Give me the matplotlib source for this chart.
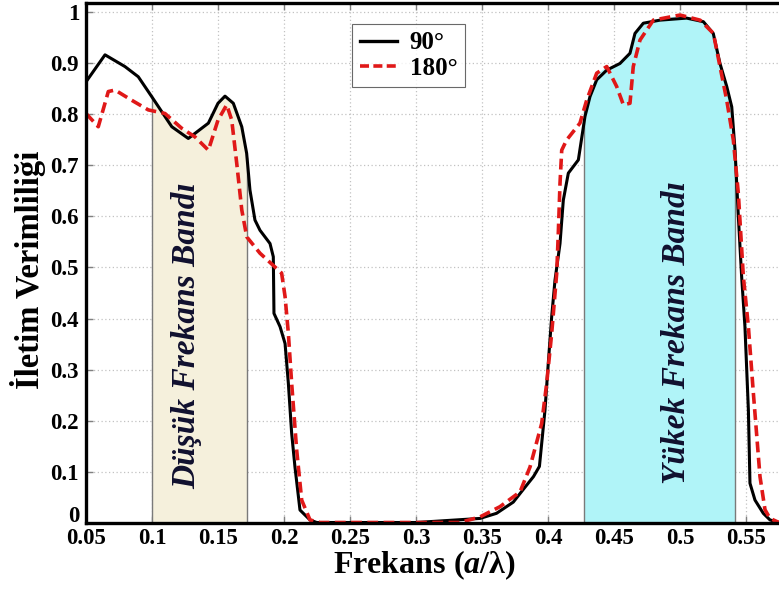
import numpy as np
import matplotlib
matplotlib.use("Agg")
import matplotlib.pyplot as plt
import matplotlib.transforms as mtransforms
from matplotlib.lines import Line2D

# ---- data ----
x_90 = [0.05, 0.0644, 0.0795, 0.0896, 0.0998, 0.115, 0.1275, 0.1427, 0.150, 0.1553,
        0.1616, 0.168, 0.1717, 0.1742, 0.178, 0.1818, 0.1894, 0.1919, 0.1924, 0.197,
        0.2008, 0.2033, 0.2058, 0.2083, 0.2121, 0.2197, 0.2248, 0.30, 0.3485, 0.361,
        0.3737, 0.381, 0.389, 0.3935, 0.3977, 0.4002, 0.4028, 0.4053, 0.4091, 0.4116,
        0.4154, 0.423, 0.428, 0.4318, 0.4369, 0.4445, 0.4545, 0.4621, 0.4659, 0.4722,
        0.4848, 0.505, 0.5177, 0.5252, 0.5303, 0.5354, 0.5392, 0.5417, 0.5442, 0.5467,
        0.5492, 0.5518, 0.553, 0.5568, 0.5631, 0.5682, 0.575]
y_90 = [0.864, 0.917, 0.894, 0.874, 0.835, 0.776, 0.753, 0.783, 0.822, 0.836,
        0.822, 0.776, 0.724, 0.652, 0.593, 0.573, 0.547, 0.521, 0.410, 0.384,
        0.351, 0.273, 0.175, 0.109, 0.0245, 0.005, 0.0, 0.0, 0.008, 0.018,
        0.040, 0.064, 0.090, 0.110, 0.220, 0.312, 0.404, 0.475, 0.547, 0.632,
        0.685, 0.711, 0.796, 0.835, 0.868, 0.887, 0.900, 0.920, 0.959, 0.979,
        0.985, 0.989, 0.982, 0.959, 0.900, 0.855, 0.815, 0.730, 0.600, 0.482,
        0.384, 0.221, 0.077, 0.044, 0.018, 0.005, 0.0]

x_180 = [0.05, 0.0593, 0.0669, 0.072, 0.0846, 0.0972, 0.1098, 0.1225, 0.1326, 0.1427,
         0.150, 0.1566, 0.1604, 0.1642, 0.168, 0.1718, 0.1818, 0.1944, 0.1982, 0.2008,
         0.2033, 0.2058, 0.2096, 0.2134, 0.2197, 0.2273, 0.3333, 0.3485, 0.3636, 0.3788,
         0.3864, 0.3952, 0.399, 0.4028, 0.4066, 0.4078, 0.4091, 0.4104, 0.4141, 0.4242,
         0.4293, 0.4369, 0.4445, 0.452, 0.4571, 0.4621, 0.4646, 0.4697, 0.4798, 0.500,
         0.5152, 0.5253, 0.5303, 0.5354, 0.5404, 0.5442, 0.548, 0.5518, 0.5556, 0.5606,
         0.5644, 0.5682, 0.575]
y_180 = [0.802, 0.776, 0.845, 0.848, 0.828, 0.809, 0.802, 0.773, 0.756, 0.730,
         0.789, 0.819, 0.789, 0.704, 0.613, 0.560, 0.528, 0.498, 0.489, 0.443,
         0.371, 0.273, 0.142, 0.044, 0.005, 0.0, 0.0, 0.011, 0.031, 0.060,
         0.109, 0.194, 0.273, 0.371, 0.489, 0.567, 0.665, 0.730, 0.750, 0.783,
         0.828, 0.881, 0.894, 0.855, 0.819, 0.822, 0.894, 0.946, 0.985, 0.995,
         0.985, 0.959, 0.894, 0.828, 0.750, 0.645, 0.482, 0.384, 0.253, 0.090,
         0.025, 0.008, 0.0]

low_band = (0.100, 0.172)
high_band = (0.427, 0.542)

x_ticks = [0.05, 0.1, 0.15, 0.2, 0.25, 0.3, 0.35, 0.4, 0.45, 0.5, 0.55]
x_tick_labels = ["0.05", "0.1", "0.15", "0.2", "0.25", "0.3", "0.35", "0.4", "0.45", "0.5", "0.55"]
y_ticks = [0, 0.1, 0.2, 0.3, 0.4, 0.5, 0.6, 0.7, 0.8, 0.9, 1.0]
y_tick_labels = ["0", "0.1", "0.2", "0.3", "0.4", "0.5", "0.6", "0.7", "0.8", "0.9", "1"]

series_labels = ["90°", "180°"]

# ---- plot ----
plt.rcParams['font.family'] = ['Liberation Serif', 'DejaVu Serif']
plt.rcParams['mathtext.fontset'] = 'custom'
plt.rcParams['mathtext.bfit'] = 'Liberation Serif:italic:bold'
plt.rcParams['mathtext.it'] = 'Liberation Serif:italic'
plt.rcParams['mathtext.rm'] = 'Liberation Serif'
plt.rcParams['mathtext.bf'] = 'Liberation Serif:bold'

fig = plt.figure(figsize=(7.79, 5.90), dpi=100)
ax = fig.add_axes([0.1104, 0.1144, 0.8896, 0.8805])

ax.set_xlim(0.05, 0.575)
ax.set_ylim(0, 1.0186)

xs = np.linspace(0.05, 0.575, 3000)
y90i = np.interp(xs, x_90, y_90)
y180i = np.interp(xs, x_180, y_180)
top = np.maximum(y90i, y180i)

for (a, b), col in [(low_band, '#f5f0dc'), (high_band, '#b0f4f8')]:
    m = (xs >= a) & (xs <= b)
    ax.fill_between(xs[m], 0, top[m], color=col, lw=0, zorder=1)
    for xe in (a, b):
        ax.plot([xe, xe], [0, np.interp(xe, xs, top)], color='#7a7a7a', lw=1.0, zorder=1.5)

ax.grid(True, color='#c2c2c2', linestyle=(0, (1, 2)), linewidth=0.9, zorder=0.5)
ax.set_axisbelow(True)

ax.plot(x_90, y_90, color='black', lw=2.2, zorder=3, solid_joinstyle='round')
ax.plot(x_180, y_180, color='#e01818', lw=2.6, linestyle=(0, (3, 1.5)), zorder=4)

ax.set_xticks(x_ticks)
ax.set_xticklabels(x_tick_labels)
ax.set_yticks(y_ticks)
ax.set_yticklabels(y_tick_labels)
ax.tick_params(direction='in', length=5, width=1.0, color='#808080', top=True,
               labelsize=16.5)
ax.tick_params(axis='x', pad=4)
ax.tick_params(axis='y', pad=5)
for lab in ax.get_xticklabels() + ax.get_yticklabels():
    lab.set_fontweight('bold')
# nudge the y "0" label up so it clears the "0.05" label
y0 = ax.get_yticklabels()[0]
y0.set_transform(y0.get_transform() + mtransforms.ScaledTranslation(0, 9 / 100, fig.dpi_scale_trans))

for s in ['left', 'bottom', 'top']:
    ax.spines[s].set_linewidth(2.4)
    ax.spines[s].set_zorder(5)
ax.spines['right'].set_visible(False)

fig.text(0.544, 0.042, r"Frekans ($\mathbfit{a}$/λ)", fontsize=23, fontweight='bold',
         ha='center', va='center')
fig.text(0.036, 0.542, "İletim Verimliliği", rotation=90, fontsize=23.5, fontweight='bold',
         ha='center', va='center')

ax.text(0.1265, 0.367, "Düşük Frekans Bandı", rotation=90, fontsize=24, fontweight='bold',
        style='italic', color='#10102e', ha='center', va='center', zorder=6)
ax.text(0.4977, 0.373, "Yükek Frekans Bandı", rotation=90, fontsize=24, fontweight='bold',
        style='italic', color='#10102e', ha='center', va='center', zorder=6)

handles = [Line2D([], [], color='black', lw=2.4),
           Line2D([], [], color='#e01818', lw=2.6, linestyle=(0, (2.5, 1.2)))]
leg = ax.legend(handles, series_labels, loc='upper left', bbox_to_anchor=(0.384, 0.96),
                prop={'family': 'Liberation Serif', 'weight': 'bold', 'size': 18},
                frameon=True, fancybox=False, handlelength=1.5, handletextpad=0.5,
                labelspacing=0.1, borderpad=0.3, borderaxespad=0)
leg.get_frame().set_edgecolor('#444444')
leg.get_frame().set_linewidth(0.8)
leg.set_zorder(7)

fig.savefig("out.png", dpi=100)
